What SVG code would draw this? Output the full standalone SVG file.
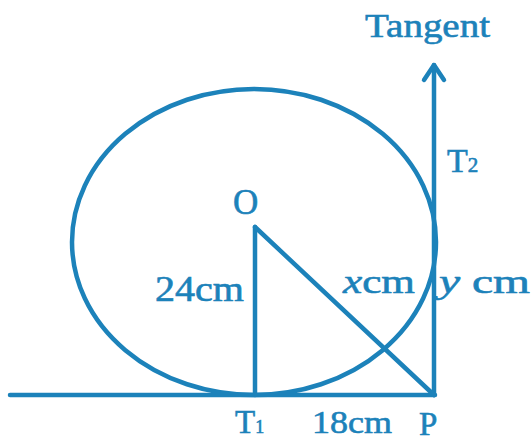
<svg xmlns="http://www.w3.org/2000/svg" width="532" height="442" viewBox="0 0 532 442">
<style>
.s{fill:none;stroke:#1c82ba;stroke-width:4.5;stroke-linecap:round;stroke-linejoin:round}
text{font-family:"Liberation Serif","Times New Roman",Times,serif;fill:#1c82ba;stroke:#1c82ba;stroke-width:0.6}
</style>
<rect width="532" height="442" fill="#fff"/>
<g id="circle"><ellipse class="s" cx="254" cy="242" rx="182" ry="153"/></g>
<g id="connectors">
<line class="s" x1="10" y1="395" x2="435" y2="395"/>
<line class="s" x1="434" y1="395" x2="434" y2="65"/>
<polyline class="s" points="424,80 434,65 444,80"/>
<line class="s" x1="255" y1="227" x2="255" y2="395"/>
<line class="s" x1="255" y1="227" x2="434" y2="395"/>
</g>
<g id="labels">
<text x="365" y="37" font-size="33" textLength="125" lengthAdjust="spacingAndGlyphs">Tangent</text>
<text x="447" y="172" font-size="34">T<tspan font-size="21">2</tspan></text>
<text x="233" y="214" font-size="35">O</text>
<text x="155" y="301" font-size="35" textLength="89" lengthAdjust="spacingAndGlyphs">24cm</text>
<text x="343" y="293" font-size="33" textLength="72" lengthAdjust="spacingAndGlyphs"><tspan font-style="italic">x</tspan>cm</text>
<text x="439" y="293" font-size="33" textLength="91" lengthAdjust="spacingAndGlyphs"><tspan font-style="italic">y</tspan> cm</text>
<text x="235" y="433" font-size="33">T<tspan font-size="18">1</tspan></text>
<text x="312" y="433" font-size="31" textLength="80" lengthAdjust="spacingAndGlyphs">18cm</text>
<text x="419" y="435" font-size="33">P</text>
</g>
</svg>
